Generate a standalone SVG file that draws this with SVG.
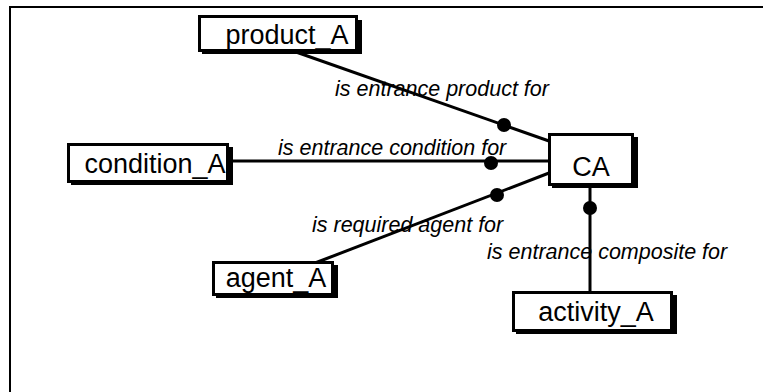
<svg xmlns="http://www.w3.org/2000/svg" width="763" height="392" viewBox="0 0 763 392">
<style>
.frame{fill:none;stroke:#000;stroke-width:2}
.box{fill:#fff;stroke:#000;stroke-width:3}
.shadow{fill:#000}
.lbl{font-family:"Liberation Sans",Arial,sans-serif;font-size:27px;fill:#000;text-anchor:middle}
.rel{font-family:"Liberation Sans",Arial,sans-serif;font-size:21.5px;font-style:italic;fill:#000}
.edge{stroke:#000;stroke-width:3;fill:none}
.dot{fill:#000}
</style>
<rect x="0" y="0" width="763" height="392" fill="#fff"/>
<rect class="frame" x="10" y="7" width="800" height="420"/>
<g id="connectors">
<line class="edge" x1="296" y1="52" x2="549" y2="141"/>
<circle class="dot" cx="504" cy="125" r="7"/>
<line class="edge" x1="232" y1="161" x2="549" y2="161"/>
<circle class="dot" cx="491" cy="163" r="7"/>
<line class="edge" x1="549" y1="173" x2="315" y2="263"/>
<circle class="dot" cx="497" cy="195" r="7"/>
<line class="edge" x1="590" y1="188" x2="590" y2="292"/>
<circle class="dot" cx="590" cy="208" r="7"/>
<text class="rel" x="335" y="96">is entrance product for</text>
<text class="rel" x="278" y="155">is entrance condition for</text>
<text class="rel" x="312" y="232">is required agent for</text>
<text class="rel" x="487" y="259">is entrance composite for</text>
</g>
<g id="product_A">
<rect class="shadow" x="202" y="20" width="160" height="34"/>
<rect class="box" x="199.5" y="16.5" width="157" height="34"/>
<text class="lbl" x="287" y="44">product_A</text>
</g>
<g id="condition_A">
<rect class="shadow" x="71" y="147" width="162" height="38"/>
<rect class="box" x="68.5" y="144.5" width="159" height="37"/>
<text class="lbl" x="155" y="173">condition_A</text>
</g>
<g id="CA">
<rect class="shadow" x="552" y="137" width="86" height="51"/>
<rect class="box" x="549.5" y="134.5" width="83" height="50"/>
<text class="lbl" x="591" y="176">CA</text>
</g>
<g id="agent_A">
<rect class="shadow" x="216" y="265" width="122" height="33"/>
<rect class="box" x="213.5" y="262.5" width="119" height="32"/>
<text class="lbl" x="276" y="287">agent_A</text>
</g>
<g id="activity_A">
<rect class="shadow" x="516" y="295" width="161" height="39"/>
<rect class="box" x="513.5" y="292.5" width="158" height="38"/>
<text class="lbl" x="596" y="321">activity_A</text>
</g>
</svg>
